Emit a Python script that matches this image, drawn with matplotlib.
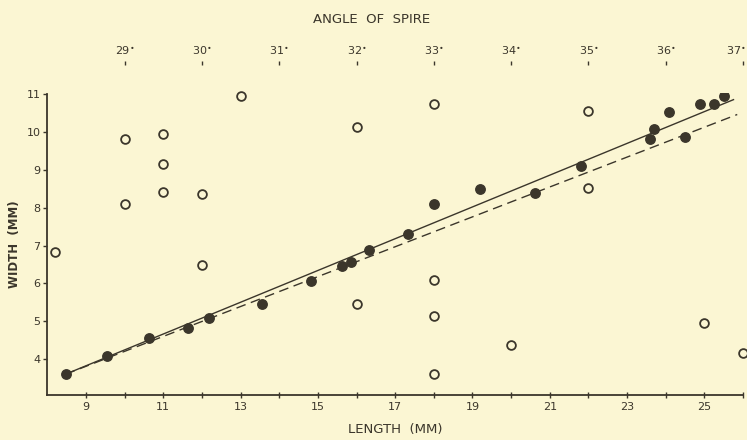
import matplotlib
matplotlib.use("Agg")
import matplotlib.pyplot as plt
import matplotlib.transforms as mtransforms

# Filled circles: length (mm) vs width (mm)
length_filled = [8.47, 9.54, 10.63, 11.65, 12.19, 13.56, 14.82, 15.63, 15.86, 16.33,
                 17.32, 18.0, 19.19, 20.62, 21.81, 23.59, 23.70, 24.09, 24.49, 24.89,
                 25.24, 25.51]
width_filled = [3.60, 4.07, 4.57, 4.82, 5.08, 5.47, 6.06, 6.46, 6.57, 6.89,
                7.30, 8.09, 8.49, 8.40, 9.12, 9.81, 10.09, 10.53, 9.87, 10.75,
                10.74, 10.96]

# Open circles: angle of spire (degrees) vs width (mm)
angle_open = [28.1, 29, 29, 29.5, 29.5, 29.5, 30, 30, 30.5, 32, 32, 33, 33, 33, 33,
              34, 35, 35, 36.5, 37]
width_open = [6.82, 9.83, 8.11, 9.96, 9.17, 8.41, 8.37, 6.48, 10.97, 10.15, 5.47,
              10.76, 6.10, 5.14, 3.60, 4.38, 10.57, 8.53, 4.96, 4.17]

# Fitted lines (endpoints)
solid_x = [8.47, 25.77]
solid_y = [3.60, 10.87]
dashed_x = [8.47, 25.85]
dashed_y = [3.60, 10.47]

length_ticks = [9, 11, 13, 15, 17, 19, 21, 23, 25]
width_ticks = [4, 5, 6, 7, 8, 9, 10, 11]
angle_ticks = [29, 30, 31, 32, 33, 34, 35, 36, 37]

bg = "#fbf6d3"
ink = "#3b362b"

def angle_to_length(a):
    return 10 + 2 * (a - 29)

def length_to_angle(L):
    return 29 + (L - 10) / 2

fig = plt.figure(figsize=(7.47, 4.40), dpi=100, facecolor=bg)
ax = fig.add_axes([0.0634, 0.1023, 0.9313, 0.6873], facecolor=bg)

ax.plot(solid_x, solid_y, color=ink, lw=1.0, solid_capstyle="butt")
ax.plot(dashed_x, dashed_y, color=ink, lw=1.0, dashes=(7, 4))

ax.plot(length_filled, width_filled, "o", ms=6.8, color=ink, mec=ink, zorder=3)
ax.plot([angle_to_length(a) for a in angle_open], width_open, "o", ms=6.3,
        mfc=bg, mec=ink, mew=1.3, zorder=3, clip_on=False)

ax.set_xlim(8, 26)
ax.set_ylim(3.05, 11.05)

for s in ["top", "right"]:
    ax.spines[s].set_visible(False)
for s in ["left", "bottom"]:
    ax.spines[s].set_color(ink)
    ax.spines[s].set_linewidth(1.3)
ax.spines["left"].set_bounds(3.05, 11.0)

ax.set_xticks(length_ticks)
ax.set_xticklabels([str(t) for t in length_ticks])
ax.set_xticks(list(range(10, 27, 2)), minor=True)
ax.tick_params(axis="x", which="both", direction="inout", length=4, width=1,
               color=ink, labelcolor=ink, labelsize=8, pad=3)
ax.set_yticks(width_ticks)
ax.set_yticklabels([str(t) for t in width_ticks])
ax.tick_params(axis="y", direction="out", length=3, width=1, color=ink,
               labelcolor=ink, labelsize=8, pad=2)

ax.set_xlabel("LENGTH  (MM)", color=ink, fontsize=9.5, labelpad=8)
ax.set_ylabel("WIDTH  (MM)", color=ink, fontsize=8.5, labelpad=4, fontweight="bold")

sec = ax.secondary_xaxis(1.09, functions=(length_to_angle, angle_to_length))
sec.spines["top"].set_visible(False)
sec.set_xticks(angle_ticks)
sec.set_xticklabels([f"{t}$^{{\\bullet}}$" for t in angle_ticks])
sec.tick_params(axis="x", direction="out", length=3, width=1, color=ink,
                labelcolor=ink, labelsize=8, pad=3)
last = sec.get_xticklabels()[-1]
last.set_transform(last.get_transform() +
                   mtransforms.ScaledTranslation(-7 / 100, 0, fig.dpi_scale_trans))

fig.text(0.498, 0.955, "ANGLE  OF  SPIRE", ha="center", va="center",
         color=ink, fontsize=9.5)

fig.savefig("out.png", dpi=100, facecolor=bg)
